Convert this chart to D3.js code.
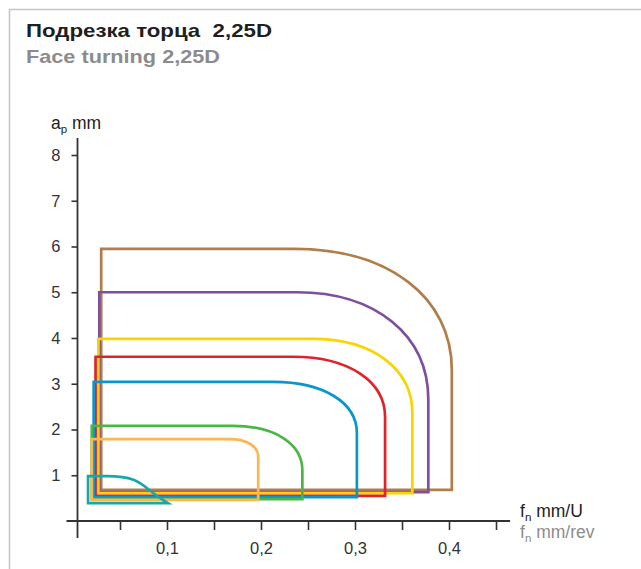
<!DOCTYPE html>
<html>
<head>
<meta charset="utf-8">
<script src="https://cdn.jsdelivr.net/npm/d3@7"></script>
<style>
  body { margin: 0; background: #fff; }
  svg { display: block; font-family: "Liberation Sans", Arial, sans-serif; }
  text { white-space: pre; }
</style>
</head>
<body>
<div id="chart"></div>
<script>
// outlines, largest first (drawing order)
const colors = ["#b07d4b", "#7f4f9f", "#f8d400", "#e2222b", "#0a96cd", "#4bb548", "#fbb752", "#17a8ab"];
const fMin   = [0.030, 0.028, 0.027, 0.024, 0.022, 0.020, 0.020, 0.016];
const fMax   = [0.403, 0.378, 0.361, 0.332, 0.302, 0.244, 0.197, 0.101];
const apMin  = [0.68, 0.63, 0.61, 0.55, 0.52, 0.48, 0.46, 0.39];
const apMax  = [5.95, 5.00, 3.98, 3.59, 3.04, 2.08, 1.79, 0.98];
const fKnee  = [0.235, 0.238, 0.255, 0.234, 0.213, 0.170, 0.167, 0.036];
const apKnee = [3.30, 2.65, 2.36, 2.27, 1.92, 1.11, 1.40, 0.39];
// how far the end of the bend leans back (only the small teal one ends on a slant)
const slant  = [0, 0, 0, 0, 0, 0, 0, 0.45];

const xTicks = [0.05, 0.1, 0.15, 0.2, 0.25, 0.3, 0.35, 0.4, 0.45];
const xLabels = [0.1, 0.2, 0.3, 0.4];
const yTicks = [1, 2, 3, 4, 5, 6, 7, 8];

const W = 641, H = 569;
const svg = d3.select("#chart").append("svg")
  .attr("width", W)
  .attr("height", H);

// frame
svg.append("path")
  .attr("d", `M9.5,${H}V9.5H${W}`)
  .attr("fill", "none")
  .attr("stroke", "#c4c4c4")
  .attr("stroke-width", 1.5);

// titles
svg.append("text")
  .attr("x", 26).attr("y", 37)
  .attr("textLength", 246).attr("lengthAdjust", "spacingAndGlyphs")
  .style("font-size", "18.5px").style("font-weight", "bold")
  .attr("fill", "#1f1f1f")
  .text("Подрезка торца  2,25D");
svg.append("text")
  .attr("x", 26).attr("y", 63)
  .attr("textLength", 194).attr("lengthAdjust", "spacingAndGlyphs")
  .style("font-size", "18.5px").style("font-weight", "bold")
  .attr("fill", "#8c8c8c")
  .text("Face turning 2,25D");

const x = d3.scaleLinear().domain([0, 0.4]).range([73, 449]);
const y = d3.scaleLinear().domain([0, 8]).range([521, 155]);
const axisX = 77.5; // where the vertical axis sits

// x axis
const gx = svg.append("g")
  .attr("transform", `translate(0,${y(0)})`)
  .call(d3.axisBottom(x)
    .tickValues(xTicks)
    .tickSize(9)
    .tickPadding(12)
    .tickFormat(d => xLabels.some(v => Math.abs(v - d) < 1e-9) ? d3.format(".1f")(d).replace(".", ",") : ""));
gx.select(".domain").remove();
gx.selectAll(".tick line").attr("stroke", "#333").attr("stroke-width", 1.6);
gx.selectAll(".tick text").attr("fill", "#333").style("font-size", "16.5px").style("font-family", "Liberation Sans, Arial, sans-serif");
svg.append("line")
  .attr("x1", axisX - 11).attr("x2", x(0.465))
  .attr("y1", y(0)).attr("y2", y(0))
  .attr("stroke", "#333").attr("stroke-width", 1.8);

// y axis
const gy = svg.append("g")
  .attr("transform", `translate(${axisX},0)`)
  .call(d3.axisLeft(y)
    .tickValues(yTicks)
    .tickSize(6)
    .tickPadding(11)
    .tickFormat(d3.format("d")));
gy.select(".domain").remove();
gy.selectAll(".tick line").attr("stroke", "#333").attr("stroke-width", 1.6);
gy.selectAll(".tick text").attr("fill", "#333").style("font-size", "16.5px").style("font-family", "Liberation Sans, Arial, sans-serif");
svg.append("line")
  .attr("x1", axisX).attr("x2", axisX)
  .attr("y1", y(8.37)).attr("y2", y(-0.37))
  .attr("stroke", "#333").attr("stroke-width", 1.8);

// axis titles
function subTitle(px, py, color, main, sub, rest) {
  const t = svg.append("text")
    .attr("x", px).attr("y", py)
    .attr("fill", color)
    .style("font-size", "17.5px");
  t.append("tspan").text(main);
  t.append("tspan").attr("dy", 4).style("font-size", "11.5px").text(sub);
  t.append("tspan").attr("dy", -4).text(rest);
}
subTitle(51, 129, "#222", "a", "p", " mm");
subTitle(520, 517, "#222", "f", "n", " mm/U");
subTitle(520, 538, "#8c8c8c", "f", "n", " mm/rev");

// outlines with a rounded upper right corner
const k = 0.6;
function outline(i) {
  const p = d3.path();
  const x0 = x(fMin[i]), x1 = x(fMax[i]), xk = x(fKnee[i]);
  const y0 = y(apMin[i]), y1 = y(apMax[i]), yk = y(apKnee[i]);
  p.moveTo(x0, y0);
  p.lineTo(x0, y1);
  p.lineTo(xk, y1);
  p.bezierCurveTo(xk + k * (x1 - xk), y1,
                  x1 - slant[i] * (x1 - xk), yk - k * (yk - y1),
                  x1, yk);
  p.lineTo(x1, y0);
  p.closePath();
  return p.toString();
}

svg.append("g")
  .selectAll("path")
  .data(d3.range(colors.length))
  .join("path")
  .attr("d", d => outline(d))
  .attr("fill", "none")
  .attr("stroke", d => colors[d])
  .attr("stroke-width", 2.7)
  .attr("stroke-linejoin", "miter");
</script>
</body>
</html>
